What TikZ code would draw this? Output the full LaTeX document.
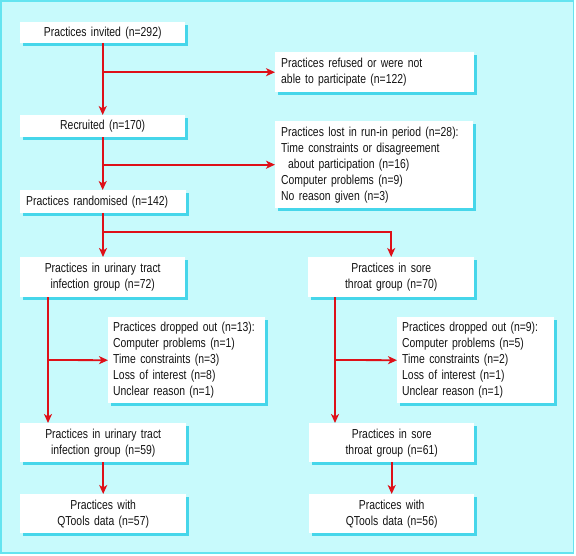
\documentclass[tikz,border=0pt]{standalone}
\usepackage{fontspec}
\setmainfont{Liberation Sans}[FakeStretch=0.8]
\usetikzlibrary{arrows.meta,shadows}
\definecolor{bgc}{RGB}{200,250,252}
\definecolor{bordc}{RGB}{100,228,240}
\definecolor{shc}{RGB}{70,214,234}
\definecolor{redc}{RGB}{222,16,24}
\definecolor{txt}{RGB}{20,20,20}
\begin{document}
\begin{tikzpicture}[x=1pt,y=-1pt,
  bx/.style={fill=white, anchor=north west, inner xsep=6pt, inner ysep=0pt,
    text=txt, font=\fontsize{13}{16}\selectfont,
    general shadow={fill=shc, shadow xshift=2.5pt, shadow yshift=-2.5pt}},
  arr/.style={draw=redc, line width=1.8pt, -{Stealth[length=9pt,width=8pt,inset=2.5pt]}},
  ln/.style={draw=redc, line width=1.8pt}]
\useasboundingbox (0,0) rectangle (576,556);
\fill[white] (0,0) rectangle (576,556);
\filldraw[fill=bgc, draw=bordc, line width=1.5pt] (1,1) rectangle (573.5,553);

\node[bx, text width=153pt, minimum height=21pt, align=center] (inv) at (20,22) {Practices invited (n=292)};
\node[bx, text width=187pt, minimum height=40pt, align=left] (ref) at (275,52) {Practices refused or were not\\able to participate (n=122)};
\node[bx, text width=153pt, minimum height=22pt, align=center] (rec) at (20,115) {Recruited (n=170)};
\node[bx, text width=186pt, minimum height=87pt, align=left] (lost) at (275,121) {Practices lost in run-in period (n=28):\\Time constraints or disagreement\\\hspace*{7pt}about participation (n=16)\\Computer problems (n=9)\\No reason given (n=3)};
\node[bx, text width=154pt, minimum height=23pt, align=left] (rand) at (20,190) {Practices randomised (n=142)};
\node[bx, text width=153pt, minimum height=40pt, align=center] (uti) at (20,257) {Practices in urinary tract\\infection group (n=72)};
\node[bx, text width=154pt, minimum height=40pt, align=center] (st) at (308,257) {Practices in sore\\throat group (n=70)};
\node[bx, text width=147pt, minimum height=86pt, align=left, inner xsep=5pt] (dropL) at (108,317) {Practices dropped out (n=13):\\Computer problems (n=1)\\Time constraints (n=3)\\Loss of interest (n=8)\\Unclear reason (n=1)};
\node[bx, text width=147pt, minimum height=86pt, align=left, inner xsep=5pt] (dropR) at (397,317) {Practices dropped out (n=9):\\Computer problems (n=5)\\Time constraints (n=2)\\Loss of interest (n=1)\\Unclear reason (n=1)};
\node[bx, text width=154pt, minimum height=39pt, align=center] (uti59) at (20,423) {Practices in urinary tract\\infection group (n=59)};
\node[bx, text width=153pt, minimum height=39pt, align=center] (st61) at (309,423) {Practices in sore\\throat group (n=61)};
\node[bx, text width=154pt, minimum height=39pt, align=center] (q57) at (20,494) {Practices with\\QTools data (n=57)};
\node[bx, text width=153pt, minimum height=39pt, align=center] (q56) at (309,494) {Practices with\\QTools data (n=56)};

\coordinate (ja) at (inv.south |- ref.west);
\coordinate (jb) at (rec.south |- lost.west);
\coordinate (jc) at (103,232);
\coordinate (jl) at (48,360);
\coordinate (jr) at (335,360);

\draw[arr] (inv.south) -- (rec.north);
\draw[arr] (ja) -- (ref.west);
\draw[arr] (rec.south) -- (rand.north -| rec.south);
\draw[arr] (jb) -- (lost.west);
\draw[arr] (rand.south -| jc) -- (uti.north -| jc);
\draw[arr] (jc) -| (st.north);
\draw[arr] (uti.south -| jl) -- (uti59.north -| jl);
\draw[arr] (jl) -- (dropL.west);
\draw[arr] (st.south -| jr) -- (st61.north -| jr);
\draw[arr] (jr) -- (dropR.west);
\draw[arr] (uti59.south) -- (q57.north);
\draw[arr] (st61.south) -- (q56.north);
\end{tikzpicture}
\end{document}
